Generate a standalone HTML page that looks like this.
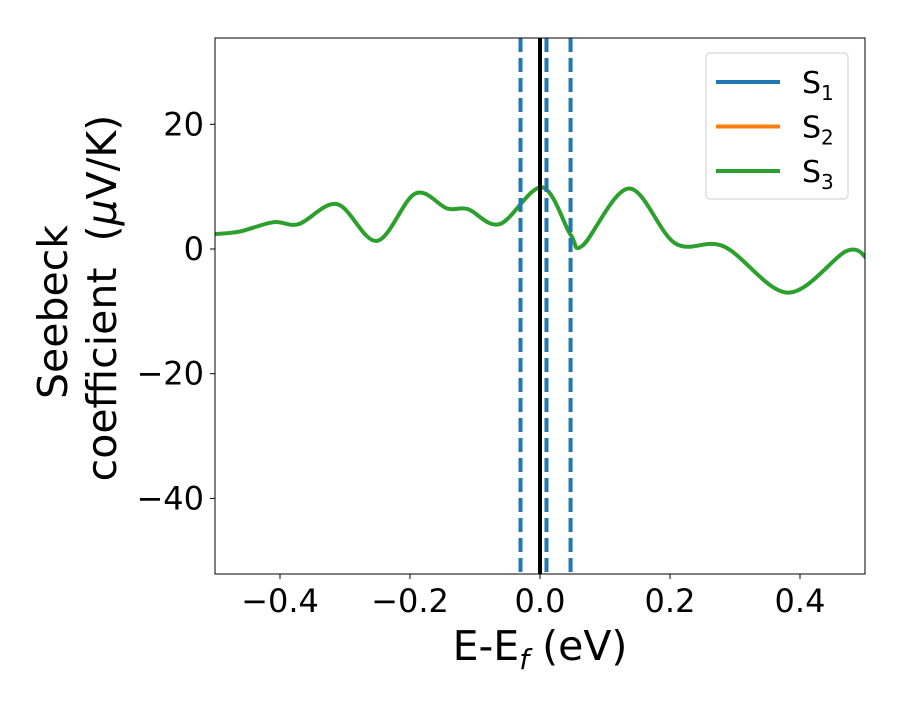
<!DOCTYPE html>
<html><head><meta charset="utf-8"><style>
body{margin:0;background:#fff}
svg text{font-family:"DejaVu Sans","Liberation Sans",sans-serif;fill:#000}
</style></head><body>
<svg width="900" height="700" viewBox="0 0 900 700">
<g id="plot"></g>
</svg>
<script>
const xs=[-0.5,-0.462,-0.41,-0.371,-0.312,-0.251,-0.192,-0.143,-0.111,-0.062,0.003,0.047,0.066,0.137,0.208,0.283,0.381,0.472,0.504];
const ys=[2.4,2.8,4.3,4.0,7.2,1.3,8.9,6.5,6.4,4.0,9.9,2.3,0.6,9.7,0.9,0.4,-7.0,-0.3,-1.65];
const vlinesDashed=[-0.03,0.01,0.047];
const xTicks=[-0.4,-0.2,0,0.2,0.4];
const xTickLabels=["\u22120.4","\u22120.2","0.0","0.2","0.4"];
const yTicks=[20,0,-20,-40];
const yTickLabels=["20","0","\u221220","\u221240"];
const legendLabels=["1","2","3"];
const legendColors=["#1f77b4","#ff7f0e","#2ca02c"];

const L=215,R=865,T=38,B=574;
const X=v=>L+(v+0.5)/1.0*(R-L);
const Y=v=>249-v*6.235;
const NS="http://www.w3.org/2000/svg";
const g=document.getElementById('plot');
function mk(t,a){const e=document.createElementNS(NS,t);for(const k in a)e.setAttribute(k,a[k]);g.appendChild(e);return e;}

const clip=mk('clipPath',{id:'c'});
const cr=document.createElementNS(NS,'rect');cr.setAttribute('x',L);cr.setAttribute('y',T);cr.setAttribute('width',R-L);cr.setAttribute('height',B-T);clip.appendChild(cr);

const P=xs.map((x,i)=>[X(x),Y(ys[i])]);
let d=`M${P[0][0]},${P[0][1]}`;
for(let i=0;i<P.length-1;i++){
 const p0=P[Math.max(0,i-1)],p1=P[i],p2=P[i+1],p3=P[Math.min(P.length-1,i+2)];
 const c1=[p1[0]+(p2[0]-p0[0])/6,p1[1]+(p2[1]-p0[1])/6];
 const c2=[p2[0]-(p3[0]-p1[0])/6,p2[1]-(p3[1]-p1[1])/6];
 d+=` C${c1[0]},${c1[1]} ${c2[0]},${c2[1]} ${p2[0]},${p2[1]}`;
}
let e;
e=mk('path',{d,fill:'none',stroke:'#2ca02c','stroke-width':4,'clip-path':'url(#c)'});


vlinesDashed.forEach(v=>{
 e=mk('line',{x1:X(v),x2:X(v),y1:T,y2:B,stroke:'#1f77b4','stroke-width':4,'stroke-dasharray':'14,6'});
 
 
});
e=mk('line',{x1:X(0),x2:X(0),y1:T,y2:B,stroke:'#000','stroke-width':4});



e=mk('rect',{x:L,y:T,width:R-L,height:B-T,fill:'none',stroke:'#000','stroke-width':1});



xTicks.forEach((v,i)=>{
 mk('line',{x1:X(v),x2:X(v),y1:B,y2:B+5,stroke:'#000'});
 e=mk('text',{x:X(v),y:B+38,'text-anchor':'middle','font-size':32});
 e.textContent=xTickLabels[i];
 
 
});
yTicks.forEach((v,i)=>{
 mk('line',{x1:L-5,x2:L,y1:Y(v),y2:Y(v),stroke:'#000'});
 e=mk('text',{x:L-11,y:Y(v)+11,'text-anchor':'end','font-size':32});
 e.textContent=yTickLabels[i];
 
 
});

e=mk('text',{x:540,y:660,'text-anchor':'middle','font-size':41});
e.innerHTML='E-E<tspan font-size="28" dy="9" font-style="italic">f</tspan><tspan dy="-9"> (eV)</tspan>';



e=mk('text',{x:0,y:0,'text-anchor':'middle','font-size':41,transform:'translate(67,312) rotate(-90)'});
e.textContent='Seebeck';


e=mk('text',{x:0,y:0,'text-anchor':'middle','font-size':41,transform:'translate(116,298) rotate(-90)','xml:space':'preserve'});
e.innerHTML='coefficient\u00a0\u00a0(<tspan font-style="italic">μ</tspan>V/K)';



e=mk('rect',{x:706,y:53,width:142,height:146,rx:4,fill:'#fff','fill-opacity':0.8,stroke:'#ccc'});


legendLabels.forEach((s,i)=>{
 const yy=82+i*44.5;
 e=mk('line',{x1:716,x2:780,y1:yy,y2:yy,stroke:legendColors[i],'stroke-width':4});
 
 
 e=mk('text',{x:802,y:yy+11,'font-size':30});
 e.innerHTML='S<tspan font-size="20" dy="7">'+s+'</tspan>';
 
 
});
</script>
</body></html>
